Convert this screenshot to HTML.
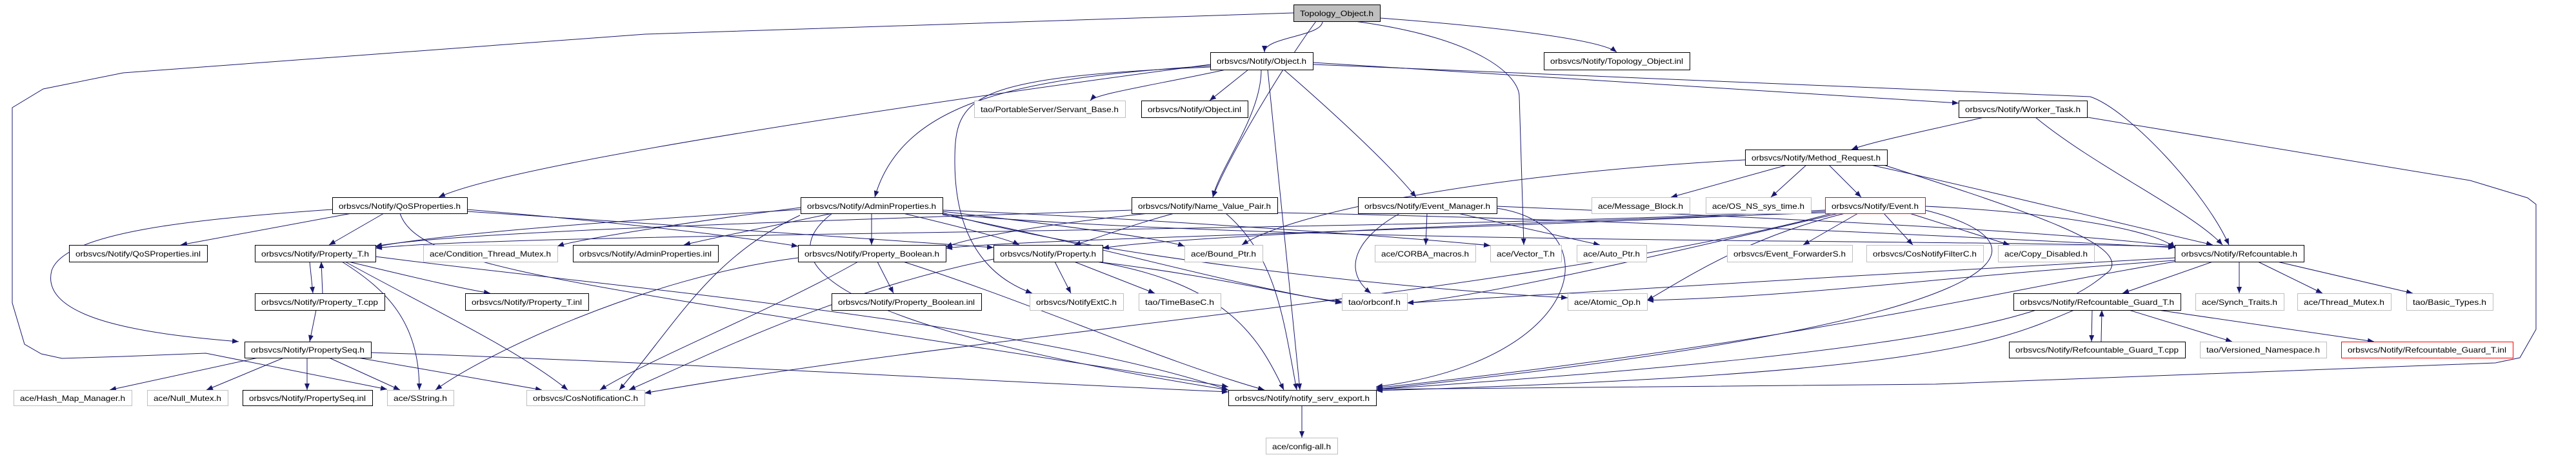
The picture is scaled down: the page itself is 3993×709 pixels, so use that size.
<!DOCTYPE html>
<html><head><meta charset="utf-8"><style>html,body{margin:0;padding:0;background:#fff}svg{display:block}</style></head>
<body>
<svg xmlns="http://www.w3.org/2000/svg" width="3993" height="709" viewBox="0 0 3993 709">
<defs><marker id="a" markerWidth="10" markerHeight="8" refX="10" refY="4" orient="auto" markerUnits="userSpaceOnUse"><path d="M0,0 L10,4 L0,8 z" fill="#191970"/></marker></defs>
<g fill="none" stroke="#191970" stroke-width="1" marker-end="url(#a)">
<path d="M2050,33 C2050,57 1960,57 1960,81"/>
<path d="M2139,28 C2300,40 2480,60 2506,81"/>
<path d="M2005,20 L1000,53 L191,113 L67,138 L19,167 L19,470 L38,534 L64,549 L96,556 L191,553 L319,548 L600,604"/>
<path d="M2040,33 C1990,100 1900,250 1880,306"/>
<path d="M2100,33 C2300,60 2355,120 2355,150 L2362,380"/>
<path d="M1876,100 C1500,150 800,250 680,306"/>
<path d="M1876,102 C1600,120 1400,150 1356,306"/>
<path d="M1900,108 C1800,130 1700,145 1690,156"/>
<path d="M1935,108 L1875,156"/>
<path d="M1955,108 C1955,180 1890,260 1880,306"/>
<path d="M1990,108 C2050,160 2150,250 2195,306"/>
<path d="M2035,97 L3036,160"/>
<path d="M2035,100 L3240,150 C3300,170 3420,300 3455,380"/>
<path d="M1965,108 L2015,605"/>
<path d="M1876,104 C1500,120 1480,150 1480,250 C1480,400 1560,440 1600,455"/>
<path d="M3075,182 C3000,200 2900,220 2870,232"/>
<path d="M3155,182 C3250,260 3400,330 3445,380"/>
<path d="M3236,182 L3829,280 L3918,307 L3931,317 L3931,511 L3906,555 L3868,563 L3000,596 L2133,604"/>
<path d="M2770,256 L2590,306"/>
<path d="M2800,256 L2745,306"/>
<path d="M2835,256 L2885,306"/>
<path d="M2900,256 C3100,300 3300,350 3430,380"/>
<path d="M2705,248 C2300,270 2000,330 1925,380"/>
<path d="M2920,256 C3150,330 3300,380 3270,420 C3200,480 3100,540 2133,604"/>
<path d="M2880,331 L2795,380"/>
<path d="M2920,331 L2965,380"/>
<path d="M2960,331 L3115,380"/>
<path d="M2984,320 C3200,330 3350,360 3371,385"/>
<path d="M2829,330 C2200,350 1800,370 1709,385"/>
<path d="M2829,328 C2200,360 1600,370 1466,385"/>
<path d="M2829,326 C2200,360 800,360 582,385"/>
<path d="M2860,331 C2700,370 2600,440 2553,466"/>
<path d="M2850,331 C2600,390 2300,460 2181,470"/>
<path d="M2984,326 C3200,380 3150,500 2133,604"/>
<path d="M2840,331 C2400,450 1500,520 999,610"/>
<path d="M2212,331 L2210,380"/>
<path d="M2260,331 L2480,380"/>
<path d="M2170,331 C2100,370 2080,420 2125,455"/>
<path d="M2320,320 C2800,340 3200,360 3371,382"/>
<path d="M2320,323 C2500,350 2460,560 2133,600"/>
<path d="M1820,331 C1750,350 1700,370 1665,380"/>
<path d="M1780,331 C1600,350 1500,370 1466,383"/>
<path d="M1754,326 C1200,345 700,360 582,382"/>
<path d="M1900,331 C1980,400 1990,500 2010,605"/>
<path d="M1980,330 C2500,340 3000,365 3371,384"/>
<path d="M1290,331 C1200,350 1100,370 1060,380"/>
<path d="M1351,331 L1351,380"/>
<path d="M1400,331 C1480,350 1560,370 1580,380"/>
<path d="M1241,325 C1000,340 700,360 582,383"/>
<path d="M1241,322 C1100,340 900,370 864,382"/>
<path d="M1461,328 C1650,350 1800,370 1836,382"/>
<path d="M1461,326 C1800,340 2200,370 2310,381"/>
<path d="M1461,330 C1700,400 2200,450 2430,462"/>
<path d="M1461,332 C2000,380 3000,370 3371,383"/>
<path d="M1290,331 C1200,400 1250,500 1904,605"/>
<path d="M1240,334 C1100,400 1050,500 960,605"/>
<path d="M1461,333 C1700,380 1900,440 2080,470"/>
<path d="M545,331 L280,380"/>
<path d="M595,331 L510,380"/>
<path d="M515,325 C300,340 100,360 80,420 C60,500 250,520 370,530"/>
<path d="M724,325 C900,340 1100,360 1237,382"/>
<path d="M724,328 C1000,345 1300,370 1540,384"/>
<path d="M620,331 C650,420 900,440 1904,600"/>
<path d="M480,406 L485,455"/>
<path d="M500,455 L498,406"/>
<path d="M540,406 C600,420 700,445 760,455"/>
<path d="M530,406 C600,450 650,500 650,605"/>
<path d="M535,406 C650,470 800,540 880,605"/>
<path d="M582,398 C900,440 1600,500 1904,605"/>
<path d="M1237,400 C1000,430 750,550 675,605"/>
<path d="M490,481 L480,530"/>
<path d="M1360,406 L1385,455"/>
<path d="M1330,406 C1200,480 1000,560 930,605"/>
<path d="M1400,406 C1600,470 1800,560 1960,605"/>
<path d="M1635,406 L1660,455"/>
<path d="M1665,406 L1790,455"/>
<path d="M1700,406 C1900,430 2000,460 2080,468"/>
<path d="M1700,406 C1900,440 1950,520 1990,605"/>
<path d="M1540,402 C1300,450 1100,550 975,605"/>
<path d="M400,555 L170,605"/>
<path d="M440,555 L320,605"/>
<path d="M476,555 L476,605"/>
<path d="M510,555 L620,605"/>
<path d="M555,555 L840,605"/>
<path d="M575,547 C1000,560 1500,590 1904,608"/>
<path d="M3430,406 L3290,455"/>
<path d="M3471,406 L3471,455"/>
<path d="M3500,406 L3600,455"/>
<path d="M3530,406 L3740,455"/>
<path d="M3371,400 C3000,420 2500,450 2181,470"/>
<path d="M3371,404 C3000,430 2800,460 2553,466"/>
<path d="M3371,406 C3100,450 2800,530 2133,602"/>
<path d="M3243,481 L3242,530"/>
<path d="M3257,530 L3258,481"/>
<path d="M3300,481 L3460,530"/>
<path d="M3345,481 L3680,530"/>
<path d="M3215,481 C3100,530 3000,580 2133,606"/>
<path d="M2018,629 L2018,679"/>
</g>
<g font-family="Liberation Sans, sans-serif" font-size="12" fill="#000" stroke-width="1">
<!-- black boxes -->
<g fill="#fff" stroke="#000">
<rect x="1876.5" y="81.5" width="159" height="27"/>
<rect x="2393.5" y="81.5" width="226" height="27"/>
<rect x="1769.5" y="156.5" width="165" height="26"/>
<rect x="3036.5" y="156.5" width="199" height="26"/>
<rect x="2705.5" y="232.5" width="220" height="24"/>
<rect x="515.5" y="306.5" width="209" height="25"/>
<rect x="1241.5" y="306.5" width="220" height="25"/>
<rect x="1754.5" y="306.5" width="226" height="25"/>
<rect x="2105.5" y="306.5" width="215" height="25"/>
<rect x="107.5" y="380.5" width="214" height="26"/>
<rect x="395.5" y="380.5" width="187" height="26"/>
<rect x="888.5" y="380.5" width="225" height="26"/>
<rect x="1237.5" y="380.5" width="229" height="26"/>
<rect x="1540.5" y="380.5" width="169" height="26"/>
<rect x="3371.5" y="380.5" width="200" height="26"/>
<rect x="395.5" y="455.5" width="201" height="26"/>
<rect x="721.5" y="455.5" width="191" height="26"/>
<rect x="1289.5" y="455.5" width="232" height="26"/>
<rect x="3121.5" y="455.5" width="259" height="26"/>
<rect x="379.5" y="530.5" width="196" height="25"/>
<rect x="3114.5" y="530.5" width="273" height="25"/>
<rect x="376.5" y="605.5" width="201" height="24"/>
<rect x="1904.5" y="605.5" width="229" height="24"/>
</g>
<g fill="#fff" stroke="#bfbfbf">
<rect x="1510.5" y="156.5" width="234" height="26"/>
<rect x="2467.5" y="306.5" width="152" height="25"/>
<rect x="2644.5" y="306.5" width="163" height="25"/>
<rect x="656.5" y="380.5" width="208" height="26"/>
<rect x="1836.5" y="380.5" width="121" height="26"/>
<rect x="2131.5" y="380.5" width="156" height="26"/>
<rect x="2310.5" y="380.5" width="110" height="26"/>
<rect x="2444.5" y="380.5" width="108" height="26"/>
<rect x="2677.5" y="380.5" width="194" height="26"/>
<rect x="2893.5" y="380.5" width="181" height="26"/>
<rect x="3097.5" y="380.5" width="149" height="26"/>
<rect x="1596.5" y="455.5" width="145" height="26"/>
<rect x="1765.5" y="455.5" width="127" height="26"/>
<rect x="2080.5" y="455.5" width="101" height="26"/>
<rect x="2430.5" y="455.5" width="123" height="26"/>
<rect x="3403.5" y="455.5" width="137" height="26"/>
<rect x="3561.5" y="455.5" width="145" height="26"/>
<rect x="3730.5" y="455.5" width="134" height="26"/>
<rect x="3410.5" y="530.5" width="196" height="25"/>
<rect x="21.5" y="605.5" width="183" height="24"/>
<rect x="228.5" y="605.5" width="125" height="24"/>
<rect x="600.5" y="605.5" width="103" height="24"/>
<rect x="816.5" y="605.5" width="183" height="24"/>
<rect x="1962.5" y="679.5" width="111" height="25"/>
</g>
<rect x="2005.5" y="7.5" width="134" height="26" fill="#bfbfbf" stroke="#000"/>
<g fill="#fff" stroke="#ff0000">
<rect x="2829.5" y="306.5" width="155" height="25"/>
<rect x="3629.5" y="530.5" width="266" height="25"/>
</g>
<g lengthAdjust="spacingAndGlyphs">
<text x="2015" y="25" textLength="114" lengthAdjust="spacingAndGlyphs">Topology_Object.h</text>
<text x="1886" y="99" textLength="139" lengthAdjust="spacingAndGlyphs">orbsvcs/Notify/Object.h</text>
<text x="2403" y="99" textLength="206" lengthAdjust="spacingAndGlyphs">orbsvcs/Notify/Topology_Object.inl</text>
<text x="1520" y="174" textLength="214" lengthAdjust="spacingAndGlyphs">tao/PortableServer/Servant_Base.h</text>
<text x="1779" y="174" textLength="145" lengthAdjust="spacingAndGlyphs">orbsvcs/Notify/Object.inl</text>
<text x="3046" y="174" textLength="179" lengthAdjust="spacingAndGlyphs">orbsvcs/Notify/Worker_Task.h</text>
<text x="2715" y="249" textLength="200" lengthAdjust="spacingAndGlyphs">orbsvcs/Notify/Method_Request.h</text>
<text x="525" y="324" textLength="189" lengthAdjust="spacingAndGlyphs">orbsvcs/Notify/QoSProperties.h</text>
<text x="1251" y="324" textLength="200" lengthAdjust="spacingAndGlyphs">orbsvcs/Notify/AdminProperties.h</text>
<text x="1764" y="324" textLength="206" lengthAdjust="spacingAndGlyphs">orbsvcs/Notify/Name_Value_Pair.h</text>
<text x="2115" y="324" textLength="195" lengthAdjust="spacingAndGlyphs">orbsvcs/Notify/Event_Manager.h</text>
<text x="2477" y="324" textLength="132" lengthAdjust="spacingAndGlyphs">ace/Message_Block.h</text>
<text x="2654" y="324" textLength="143" lengthAdjust="spacingAndGlyphs">ace/OS_NS_sys_time.h</text>
<text x="2839" y="324" textLength="135" lengthAdjust="spacingAndGlyphs">orbsvcs/Notify/Event.h</text>
<text x="117" y="398" textLength="194" lengthAdjust="spacingAndGlyphs">orbsvcs/Notify/QoSProperties.inl</text>
<text x="405" y="398" textLength="167" lengthAdjust="spacingAndGlyphs">orbsvcs/Notify/Property_T.h</text>
<text x="666" y="398" textLength="188" lengthAdjust="spacingAndGlyphs">ace/Condition_Thread_Mutex.h</text>
<text x="898" y="398" textLength="205" lengthAdjust="spacingAndGlyphs">orbsvcs/Notify/AdminProperties.inl</text>
<text x="1247" y="398" textLength="209" lengthAdjust="spacingAndGlyphs">orbsvcs/Notify/Property_Boolean.h</text>
<text x="1550" y="398" textLength="149" lengthAdjust="spacingAndGlyphs">orbsvcs/Notify/Property.h</text>
<text x="1846" y="398" textLength="101" lengthAdjust="spacingAndGlyphs">ace/Bound_Ptr.h</text>
<text x="2141" y="398" textLength="136" lengthAdjust="spacingAndGlyphs">ace/CORBA_macros.h</text>
<text x="2320" y="398" textLength="90" lengthAdjust="spacingAndGlyphs">ace/Vector_T.h</text>
<text x="2454" y="398" textLength="88" lengthAdjust="spacingAndGlyphs">ace/Auto_Ptr.h</text>
<text x="2687" y="398" textLength="174" lengthAdjust="spacingAndGlyphs">orbsvcs/Event_ForwarderS.h</text>
<text x="2903" y="398" textLength="161" lengthAdjust="spacingAndGlyphs">orbsvcs/CosNotifyFilterC.h</text>
<text x="3107" y="398" textLength="129" lengthAdjust="spacingAndGlyphs">ace/Copy_Disabled.h</text>
<text x="3381" y="398" textLength="180" lengthAdjust="spacingAndGlyphs">orbsvcs/Notify/Refcountable.h</text>
<text x="405" y="473" textLength="181" lengthAdjust="spacingAndGlyphs">orbsvcs/Notify/Property_T.cpp</text>
<text x="731" y="473" textLength="171" lengthAdjust="spacingAndGlyphs">orbsvcs/Notify/Property_T.inl</text>
<text x="1299" y="473" textLength="212" lengthAdjust="spacingAndGlyphs">orbsvcs/Notify/Property_Boolean.inl</text>
<text x="1606" y="473" textLength="125" lengthAdjust="spacingAndGlyphs">orbsvcs/NotifyExtC.h</text>
<text x="1775" y="473" textLength="107" lengthAdjust="spacingAndGlyphs">tao/TimeBaseC.h</text>
<text x="2090" y="473" textLength="81" lengthAdjust="spacingAndGlyphs">tao/orbconf.h</text>
<text x="2440" y="473" textLength="103" lengthAdjust="spacingAndGlyphs">ace/Atomic_Op.h</text>
<text x="3131" y="473" textLength="239" lengthAdjust="spacingAndGlyphs">orbsvcs/Notify/Refcountable_Guard_T.h</text>
<text x="3413" y="473" textLength="117" lengthAdjust="spacingAndGlyphs">ace/Synch_Traits.h</text>
<text x="3571" y="473" textLength="125" lengthAdjust="spacingAndGlyphs">ace/Thread_Mutex.h</text>
<text x="3740" y="473" textLength="114" lengthAdjust="spacingAndGlyphs">tao/Basic_Types.h</text>
<text x="389" y="547" textLength="176" lengthAdjust="spacingAndGlyphs">orbsvcs/Notify/PropertySeq.h</text>
<text x="3124" y="547" textLength="253" lengthAdjust="spacingAndGlyphs">orbsvcs/Notify/Refcountable_Guard_T.cpp</text>
<text x="3420" y="547" textLength="176" lengthAdjust="spacingAndGlyphs">tao/Versioned_Namespace.h</text>
<text x="3639" y="547" textLength="246" lengthAdjust="spacingAndGlyphs">orbsvcs/Notify/Refcountable_Guard_T.inl</text>
<text x="31" y="622" textLength="163" lengthAdjust="spacingAndGlyphs">ace/Hash_Map_Manager.h</text>
<text x="238" y="622" textLength="105" lengthAdjust="spacingAndGlyphs">ace/Null_Mutex.h</text>
<text x="386" y="622" textLength="181" lengthAdjust="spacingAndGlyphs">orbsvcs/Notify/PropertySeq.inl</text>
<text x="610" y="622" textLength="83" lengthAdjust="spacingAndGlyphs">ace/SString.h</text>
<text x="826" y="622" textLength="163" lengthAdjust="spacingAndGlyphs">orbsvcs/CosNotificationC.h</text>
<text x="1914" y="622" textLength="209" lengthAdjust="spacingAndGlyphs">orbsvcs/Notify/notify_serv_export.h</text>
<text x="1972" y="697" textLength="91" lengthAdjust="spacingAndGlyphs">ace/config-all.h</text>
</g>
</g>
</svg>
</body></html>
